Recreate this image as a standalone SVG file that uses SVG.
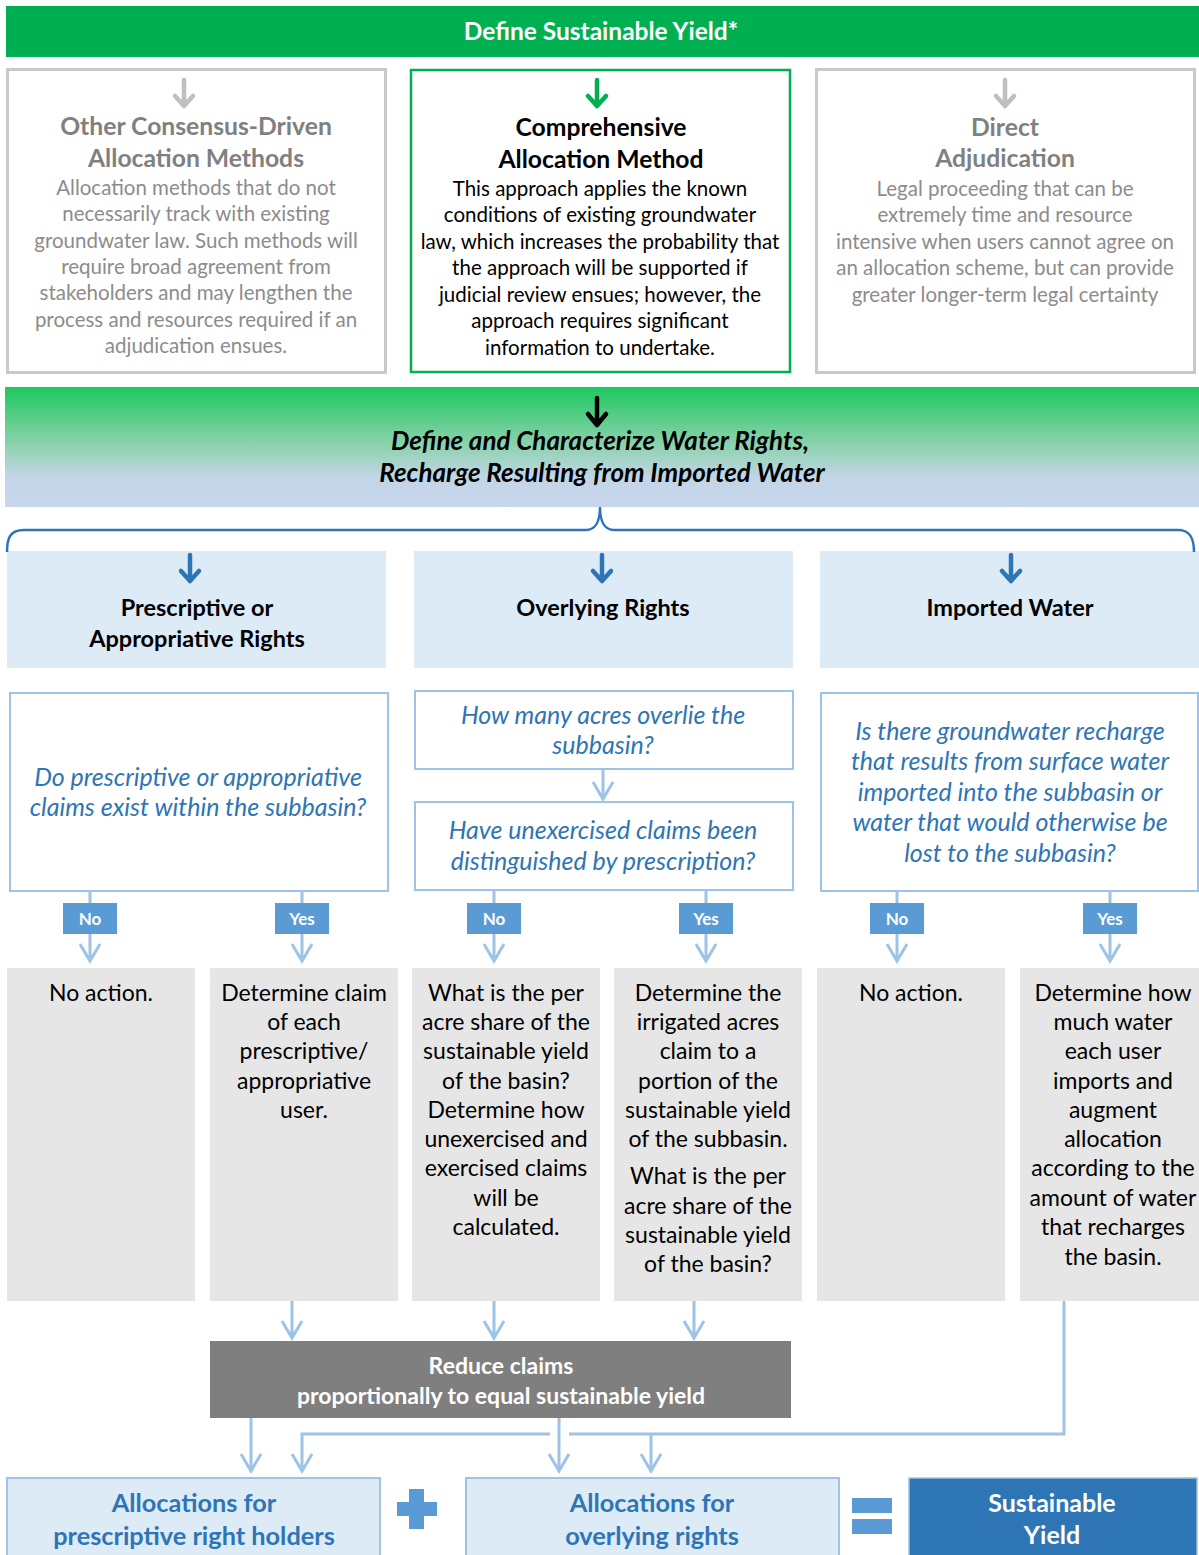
<svg xmlns="http://www.w3.org/2000/svg" width="1199" height="1555" viewBox="0 0 1199 1555">
<defs>
<linearGradient id="band" x1="0" y1="0" x2="0" y2="1">
<stop offset="0" stop-color="#1FC85F"/>
<stop offset="0.5" stop-color="#8FD3B0"/>
<stop offset="0.75" stop-color="#C2D5E6"/>
<stop offset="1" stop-color="#C7D6EC"/>
</linearGradient>
</defs>
<style>
text{font-family:Lato,"Open Sans","Liberation Sans",sans-serif;text-anchor:middle}
.gtitle{font-size:24.5px;font-weight:bold;fill:#fff}
.ttl{font-size:24.7px;font-weight:bold}
.body{font-size:20.5px}
.grey{fill:#808080}
.greyb{fill:#8C8C8C}
.blk{fill:#000}
.band{font-size:26px;font-weight:bold;font-style:italic;fill:#000}
.bt{font-size:23.5px;font-weight:bold;fill:#000}
.q{font-size:25px;font-style:italic;fill:#2E75B6}
.yn{font-size:17px;font-weight:bold;fill:#fff}
.gb{font-size:23px;fill:#000}
.red{font-size:23px;font-weight:bold;fill:#fff}
.alloc{font-size:25.3px;font-weight:bold;fill:#2E75B6}
.sy{font-size:25px;font-weight:bold;fill:#fff}
.qbox{fill:#fff;stroke:#9DC3E6;stroke-width:2}
.lbox{fill:#DDEBF7}
.gbox{fill:#E7E6E6}
.ynbox{fill:#5B9BD5}
.con{fill:none;stroke:#9DC3E6;stroke-width:3}
.arr{fill:none;stroke-width:4.5;stroke-linecap:round;stroke-linejoin:round}
</style>

<g id="define-sustainable-yield">
<rect x="6" y="6" width="1193" height="51" fill="#00AF50"/>
<text class="gtitle" x="601" y="40">Define Sustainable Yield*</text>
</g>

<g id="other-consensus">
<rect x="7.5" y="69.5" width="378" height="303" fill="#fff" stroke="#C9C9C9" stroke-width="3"/>
<g class="arr" stroke="#BFBFBF"><path d="M184 80V105M175 96L184 106L193 96"/></g>
<text class="ttl grey" x="196" y="135">Other Consensus-Driven</text>
<text class="ttl grey" x="196" y="167">Allocation Methods</text>
<text class="body greyb" x="196" y="195">Allocation methods that do not</text>
<text class="body greyb" x="196" y="221">necessarily track with existing</text>
<text class="body greyb" x="196" y="248">groundwater law. Such methods will</text>
<text class="body greyb" x="196" y="274">require broad agreement from</text>
<text class="body greyb" x="196" y="300">stakeholders and may lengthen the</text>
<text class="body greyb" x="196" y="327">process and resources required if an</text>
<text class="body greyb" x="196" y="353">adjudication ensues.</text>
</g>

<g id="comprehensive">
<rect x="411" y="70" width="379" height="302" fill="#fff" stroke="#00B050" stroke-width="2.5"/>
<g class="arr" stroke="#00B050"><path d="M597 80V105M588 96L597 106L606 96"/></g>
<text class="ttl blk" x="601" y="136">Comprehensive</text>
<text class="ttl blk" x="601" y="168">Allocation Method</text>
<text class="body blk" x="600" y="196">This approach applies the known</text>
<text class="body blk" x="600" y="222">conditions of existing groundwater</text>
<text class="body blk" x="600" y="249">law, which increases the probability that</text>
<text class="body blk" x="600" y="275">the approach will be supported if</text>
<text class="body blk" x="600" y="302">judicial review ensues; however, the</text>
<text class="body blk" x="600" y="328">approach requires significant</text>
<text class="body blk" x="600" y="355">information to undertake.</text>
</g>

<g id="direct-adjudication">
<rect x="816.5" y="69.5" width="378" height="303" fill="#fff" stroke="#C9C9C9" stroke-width="3"/>
<g class="arr" stroke="#BFBFBF"><path d="M1005 80V105M996 96L1005 106L1014 96"/></g>
<text class="ttl grey" x="1005" y="136">Direct</text>
<text class="ttl grey" x="1005" y="167">Adjudication</text>
<text class="body greyb" x="1005" y="196">Legal proceeding that can be</text>
<text class="body greyb" x="1005" y="222">extremely time and resource</text>
<text class="body greyb" x="1005" y="249">intensive when users cannot agree on</text>
<text class="body greyb" x="1005" y="275">an allocation scheme, but can provide</text>
<text class="body greyb" x="1005" y="302">greater longer-term legal certainty</text>
</g>

<g id="define-characterize">
<rect x="5" y="387" width="1194" height="120" fill="url(#band)"/>
<g class="arr" stroke="#000"><path d="M597 398V424M588 414L597 425L606 414"/></g>
<text class="band" x="600" y="450">Define and Characterize Water Rights,</text>
<text class="band" x="602" y="482">Recharge Resulting from Imported Water</text>
</g>

<g id="prescriptive-rights">
<rect class="lbox" x="7" y="551" width="379" height="117"/>
<g class="arr" stroke="#2E75B6"><path d="M190 555V580M181 571L190 581L199 571"/></g>
<text class="bt" x="197" y="616">Prescriptive or</text>
<text class="bt" x="197" y="647">Appropriative Rights</text>
</g>
<g id="overlying-rights">
<rect class="lbox" x="414" y="551" width="379" height="117"/>
<g class="arr" stroke="#2E75B6"><path d="M602 555V580M593 571L602 581L611 571"/></g>
<text class="bt" x="603" y="616">Overlying Rights</text>
</g>
<g id="imported-water">
<rect class="lbox" x="820" y="551" width="379" height="117"/>
<g class="arr" stroke="#2E75B6"><path d="M1011 555V580M1002 571L1011 581L1020 571"/></g>
<text class="bt" x="1010" y="616">Imported Water</text>
</g>

<g id="q-prescriptive">
<rect class="qbox" x="10" y="693" width="378" height="198"/>
<text class="q" x="198" y="786">Do prescriptive or appropriative</text>
<text class="q" x="198" y="816">claims exist within the subbasin?</text>
</g>
<g id="q-acres">
<rect class="qbox" x="415" y="691" width="378" height="78"/>
<text class="q" x="603" y="724">How many acres overlie the</text>
<text class="q" x="603" y="754">subbasin?</text>
</g>
<g id="q-unexercised">
<rect class="qbox" x="415" y="802" width="378" height="88"/>
<text class="q" x="603" y="839">Have unexercised claims been</text>
<text class="q" x="603" y="870">distinguished by prescription?</text>
</g>
<g id="q-imported">
<rect class="qbox" x="821" y="693" width="377" height="198"/>
<text class="q" x="1010" y="740">Is there groundwater recharge</text>
<text class="q" x="1010" y="770">that results from surface water</text>
<text class="q" x="1010" y="801">imported into the subbasin or</text>
<text class="q" x="1010" y="831">water that would otherwise be</text>
<text class="q" x="1010" y="862">lost to the subbasin?</text>
</g>

<g id="connectors">
<path d="M7 552C7 538 10 530 24 530L586 530C596 530 600 520 600 507C600 520 604 530 614 530L1178 530C1190 530 1194 538 1194 552" fill="none" stroke="#2E75B6" stroke-width="2.5"/>
<g class="con">
<path d="M603 770V799M593 782L603 799L613 782"/>
<path d="M90 892V961M80 944L90 961L100 944"/>
<path d="M302 892V961M292 944L302 961L312 944"/>
<path d="M494 891V961M484 944L494 961L504 944"/>
<path d="M706 891V961M696 944L706 961L716 944"/>
<path d="M897 892V961M887 944L897 961L907 944"/>
<path d="M1110 892V961M1100 944L1110 961L1120 944"/>
<path d="M292 1301V1338M282 1321L292 1338L302 1321"/>
<path d="M494 1301V1338M484 1321L494 1338L504 1321"/>
<path d="M694 1301V1338M684 1321L694 1338L704 1321"/>
<path d="M251 1418V1471M241 1454L251 1471L261 1454"/>
<path d="M559 1418V1471M549 1454L559 1471L569 1454"/>
<path d="M1064 1301V1434H569M550 1434H302V1471M292 1454L302 1471L312 1454"/>
<path d="M651 1434V1471M641 1454L651 1471L661 1454"/>
</g>
</g>

<g id="label-no-1"><rect class="ynbox" x="63" y="903" width="54" height="31"/><text class="yn" x="90" y="925">No</text></g>
<g id="label-yes-1"><rect class="ynbox" x="275" y="903" width="54" height="31"/><text class="yn" x="302" y="925">Yes</text></g>
<g id="label-no-2"><rect class="ynbox" x="467" y="903" width="54" height="31"/><text class="yn" x="494" y="925">No</text></g>
<g id="label-yes-2"><rect class="ynbox" x="679" y="903" width="54" height="31"/><text class="yn" x="706" y="925">Yes</text></g>
<g id="label-no-3"><rect class="ynbox" x="870" y="903" width="54" height="31"/><text class="yn" x="897" y="925">No</text></g>
<g id="label-yes-3"><rect class="ynbox" x="1083" y="903" width="54" height="31"/><text class="yn" x="1110" y="925">Yes</text></g>

<g id="no-action-1">
<rect class="gbox" x="7" y="968" width="188" height="333"/>
<text class="gb" x="101" y="1001">No action.</text>
</g>
<g id="determine-claim">
<rect class="gbox" x="210" y="968" width="188" height="333"/>
<text class="gb" x="304" y="1001">Determine claim</text>
<text class="gb" x="304" y="1030">of each</text>
<text class="gb" x="304" y="1059">prescriptive/</text>
<text class="gb" x="304" y="1089">appropriative</text>
<text class="gb" x="304" y="1118">user.</text>
</g>
<g id="per-acre-share">
<rect class="gbox" x="412" y="968" width="188" height="333"/>
<text class="gb" x="506" y="1001">What is the per</text>
<text class="gb" x="506" y="1030">acre share of the</text>
<text class="gb" x="506" y="1059">sustainable yield</text>
<text class="gb" x="506" y="1089">of the basin?</text>
<text class="gb" x="506" y="1118">Determine how</text>
<text class="gb" x="506" y="1147">unexercised and</text>
<text class="gb" x="506" y="1176">exercised claims</text>
<text class="gb" x="506" y="1206">will be</text>
<text class="gb" x="506" y="1235">calculated.</text>
</g>
<g id="irrigated-acres">
<rect class="gbox" x="614" y="968" width="188" height="333"/>
<text class="gb" x="708" y="1001">Determine the</text>
<text class="gb" x="708" y="1030">irrigated acres</text>
<text class="gb" x="708" y="1059">claim to a</text>
<text class="gb" x="708" y="1089">portion of the</text>
<text class="gb" x="708" y="1118">sustainable yield</text>
<text class="gb" x="708" y="1147">of the subbasin.</text>
<text class="gb" x="708" y="1184">What is the per</text>
<text class="gb" x="708" y="1214">acre share of the</text>
<text class="gb" x="708" y="1243">sustainable yield</text>
<text class="gb" x="708" y="1272">of the basin?</text>
</g>
<g id="no-action-2">
<rect class="gbox" x="817" y="968" width="188" height="333"/>
<text class="gb" x="911" y="1001">No action.</text>
</g>
<g id="imports-augment">
<rect class="gbox" x="1020" y="968" width="179" height="333"/>
<text class="gb" x="1113" y="1001">Determine how</text>
<text class="gb" x="1113" y="1030">much water</text>
<text class="gb" x="1113" y="1059">each user</text>
<text class="gb" x="1113" y="1089">imports and</text>
<text class="gb" x="1113" y="1118">augment</text>
<text class="gb" x="1113" y="1147">allocation</text>
<text class="gb" x="1113" y="1176">according to the</text>
<text class="gb" x="1113" y="1206">amount of water</text>
<text class="gb" x="1113" y="1235">that recharges</text>
<text class="gb" x="1113" y="1265">the basin.</text>
</g>

<g id="reduce-claims">
<rect x="210" y="1341" width="581" height="77" fill="#7F7F7F"/>
<text class="red" x="501" y="1374">Reduce claims</text>
<text class="red" x="501" y="1404">proportionally to equal sustainable yield</text>
</g>

<g id="alloc-prescriptive">
<rect x="7" y="1478" width="373" height="80" fill="#DDEBF7" stroke="#9DC3E6" stroke-width="2"/>
<text class="alloc" x="194" y="1512">Allocations for</text>
<text class="alloc" x="194" y="1545">prescriptive right holders</text>
</g>
<g id="plus">
<path d="M409 1489H424V1502H437V1516H424V1529H409V1516H397V1502H409Z" fill="#5B9BD5"/>
</g>
<g id="alloc-overlying">
<rect x="466" y="1478" width="373" height="80" fill="#DDEBF7" stroke="#9DC3E6" stroke-width="2"/>
<text class="alloc" x="652" y="1512">Allocations for</text>
<text class="alloc" x="652" y="1545">overlying rights</text>
</g>
<g id="equals">
<rect x="852" y="1498" width="40" height="15" fill="#5B9BD5"/>
<rect x="852" y="1519" width="40" height="15" fill="#5B9BD5"/>
</g>
<g id="sustainable-yield">
<rect x="909" y="1478" width="288" height="80" fill="#2E75B6" stroke="#9DC3E6" stroke-width="1.5"/>
<text class="sy" x="1052" y="1512">Sustainable</text>
<text class="sy" x="1052" y="1544">Yield</text>
</g>
</svg>
